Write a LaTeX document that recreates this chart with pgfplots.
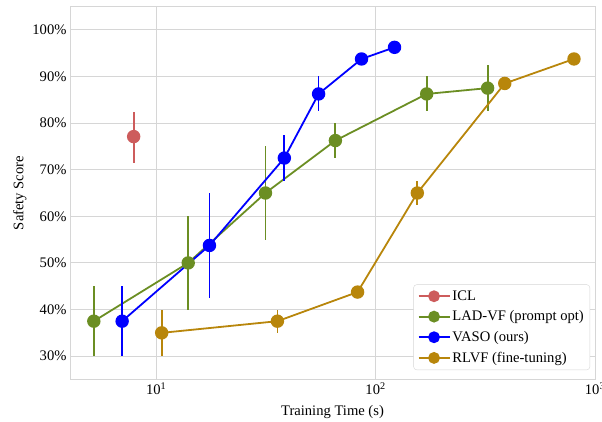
\documentclass[border=0pt]{standalone}
\usepackage{fontspec}
\setmainfont{Liberation Serif}
\usepackage{pgfplots}
\usepackage{pgfplotstable}
\pgfplotsset{compat=1.18}
\usetikzlibrary{calc}

\definecolor{iclc}{RGB}{205,92,92}
\definecolor{ladc}{RGB}{107,142,35}
\definecolor{vasoc}{RGB}{0,0,255}
\definecolor{rlvfc}{RGB}{184,134,11}
\definecolor{gridc}{RGB}{214,214,214}

% x = training time (s), y = safety score (%), ep/em = error bar up/down
\pgfplotstableread{
x y ep em
7.9 77.1 5.2 5.6
}\icl
\pgfplotstableread{
x y ep em
5.2 37.5 7.5 7.5
14.0 50.0 10.0 10.0
31.5 65.0 10.0 10.0
65.6 76.25 3.75 3.75
171 86.25 3.75 3.75
324 87.5 5.0 5.0
}\lad
\pgfplotstableread{
x y ep em
7.0 37.5 7.5 7.5
17.5 53.75 11.25 11.25
38.4 72.5 5.0 5.0
55 86.25 3.75 3.75
86.3 93.75 0.8 0.8
122 96.25 0.8 0.8
}\vaso
\pgfplotstableread{
x y ep em
10.6 35.0 5.0 5.0
35.7 37.5 2.5 2.5
82.8 43.75 0.7 0.7
155 65.0 2.5 2.5
388 88.5 1.2 1.2
802 93.75 0.8 0.8
}\rlvf

\begin{document}
\begin{tikzpicture}[font=\fontsize{14.6bp}{17bp}\selectfont]
\begin{axis}[
    name=ax,
    scale only axis,
    width=525bp, height=372bp,
    xmode=log,
    xmin=4.05, xmax=1000,
    ymin=25.1, ymax=104.9,
    xtick={10,100,1000},
    xticklabels={10\textsuperscript{1},10\textsuperscript{2},10\textsuperscript{3}},
    xminorticks=false,
    ytick={30,40,50,60,70,80,90,100},
    yticklabels={30\%,40\%,50\%,60\%,70\%,80\%,90\%,100\%},
    major tick length=0pt,
    grid=major,
    major grid style={gridc, line width=1bp},
    axis line style={gridc, line width=1bp},
    xlabel={Training Time (s)},
    ylabel={Safety Score},
    xlabel style={yshift=-4bp},
    ylabel style={yshift=-1bp},
    legend style={at={(1,0)}, anchor=south east, xshift=-5bp, yshift=9bp,
        draw=gridc, rounded corners=3bp, fill=white,
        cells={anchor=west}, row sep=5bp, inner xsep=4bp, inner ysep=4bp},
    legend image code/.code={
        \draw[mark repeat=2, mark phase=2, mark size=5bp]
            plot coordinates {(0bp,0bp) (15.5bp,0bp) (31bp,0bp)};
    },
    every axis plot/.append style={line width=1.8bp, mark=*, mark size=5.8bp},
    error bars/error bar style={line width=1.8bp},
]
\addplot[iclc, mark options={fill=iclc},
    error bars/.cd, y dir=both, y explicit, error mark=none]
    table[x=x, y=y, y error plus=ep, y error minus=em] {\icl};
\addlegendentry{ICL}
\addplot[ladc, mark options={fill=ladc},
    error bars/.cd, y dir=both, y explicit, error mark=none]
    table[x=x, y=y, y error plus=ep, y error minus=em] {\lad};
\addlegendentry{LAD-VF (prompt opt)}
\addplot[vasoc, mark options={fill=vasoc},
    error bars/.cd, y dir=both, y explicit, error mark=none]
    table[x=x, y=y, y error plus=ep, y error minus=em] {\vaso};
\addlegendentry{VASO (ours)}
\addplot[rlvfc, mark options={fill=rlvfc},
    error bars/.cd, y dir=both, y explicit, error mark=none]
    table[x=x, y=y, y error plus=ep, y error minus=em] {\rlvf};
\addlegendentry{RLVF (fine-tuning)}
\end{axis}
\pgfresetboundingbox
\path ($(ax.south west)+(-70bp,-43bp)$) rectangle ($(ax.north east)+(7bp,7bp)$);
\end{tikzpicture}
\end{document}
